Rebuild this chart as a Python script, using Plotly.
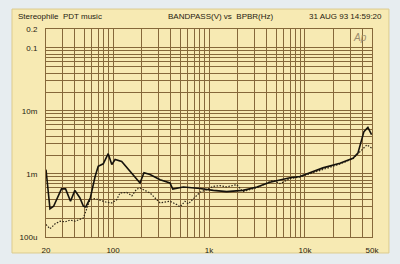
import plotly.graph_objects as go

# Frequencies (Hz) and bandpass levels (V)
freq_solid = [20, 22, 24, 29, 32, 36, 40, 45, 49, 52, 58, 65, 70, 79, 89, 97, 105, 123,
              191, 210, 243, 309, 392, 419, 540, 806, 1109, 1528, 2262, 3162, 4318,
              6978, 8870, 11270, 15400, 23170, 31620, 35650, 39260, 41200, 45300, 49500]
level_solid = [1.17e-3, 2.8e-4, 3.08e-4, 5.8e-4, 5.8e-4, 3.7e-4, 5.5e-4, 4.2e-4, 3.1e-4,
               3.0e-4, 4.2e-4, 9.1e-4, 1.32e-3, 1.45e-3, 2.1e-3, 1.41e-3, 1.7e-3, 1.58e-3,
               7.2e-4, 1.05e-3, 9.8e-4, 8.1e-4, 7.2e-4, 5.75e-4, 6.2e-4, 5.9e-4, 5.5e-4,
               5.25e-4, 5.5e-4, 6.2e-4, 7.4e-4, 8.7e-4, 9.1e-4, 1.05e-3, 1.25e-3, 1.48e-3,
               1.78e-3, 2.14e-3, 3.47e-3, 4.7e-3, 5.5e-3, 4.2e-3]

freq_dotted = [20, 22, 24.9, 28.1, 31.6, 35.7, 40.2, 44.5, 49, 53.2, 57.6, 64.9, 73.2, 86,
               97, 109, 118, 139, 157, 176, 191, 243, 309, 392, 461, 499, 562, 608, 686,
               806, 946, 1109, 1302, 1528, 1944, 2262, 3162, 4642, 5495, 6978, 8870,
               11270, 15400, 23170, 31620, 35650, 39260, 44240, 49500]
level_dotted = [1.58e-4, 1.35e-4, 1.62e-4, 1.78e-4, 1.74e-4, 1.86e-4, 1.78e-4, 1.9e-4,
                2.0e-4, 2.82e-4, 3.9e-4, 4.07e-4, 3.8e-4, 3.55e-4, 3.47e-4, 3.9e-4,
                5.0e-4, 5.1e-4, 4.5e-4, 5.75e-4, 6.0e-4, 5.0e-4, 3.47e-4, 3.7e-4,
                3.27e-4, 3.01e-4, 3.69e-4, 3.36e-4, 4.03e-4, 5.13e-4, 5.65e-4, 6.37e-4,
                6.53e-4, 6.24e-4, 6.78e-4, 5.25e-4, 6.08e-4, 7.94e-4, 7.03e-4, 8.43e-4,
                8.97e-4, 1.01e-3, 1.21e-3, 1.44e-3, 1.75e-3, 2.09e-3, 2.42e-3, 2.9e-3,
                2.58e-3]

x_grid = [20, 30, 40, 50, 60, 70, 80, 90, 100, 200, 300, 400, 500, 600, 700, 800, 900,
          1000, 2000, 3000, 4000, 5000, 6000, 7000, 8000, 9000,
          10000, 20000, 30000, 40000, 50000]
x_labels = {20: "20", 100: "100", 1000: "1k", 10000: "10k", 50000: "50k"}

y_grid = [1e-4, 2e-4, 3e-4, 4e-4, 5e-4, 6e-4, 7e-4, 8e-4, 9e-4,
          1e-3, 2e-3, 3e-3, 4e-3, 5e-3, 6e-3, 7e-3, 8e-3, 9e-3,
          1e-2, 2e-2, 3e-2, 4e-2, 5e-2, 6e-2, 7e-2, 8e-2, 9e-2, 0.1, 0.2]
y_labels = {1e-4: "100u", 1e-3: "1m", 1e-2: "10m", 0.1: "0.1", 0.2: "0.2"}

title_left = "Stereophile  PDT music"
title_mid = "BANDPASS(V) vs  BPBR(Hz)"
title_right = "31 AUG 93 14:59:20"

GRID = "#86683a"
TAN = "#f7eab3"
INK = "#1f1a10"
FONT = "Liberation Sans"

fig = go.Figure()
fig.add_trace(go.Scatter(x=freq_dotted, y=level_dotted, mode="lines",
                         line=dict(color="#2e2618", width=1.2, dash="1.5px,1.5px"),
                         hoverinfo="skip"))
fig.add_trace(go.Scatter(x=freq_solid, y=level_solid, mode="lines",
                         line=dict(color="#15120c", width=1.6),
                         hoverinfo="skip"))

fig.update_xaxes(type="log", range=[1.30103, 4.69897], automargin=False,
                 tickmode="array", tickvals=x_grid,
                 ticktext=[x_labels.get(v, "") for v in x_grid],
                 showgrid=True, gridcolor=GRID, gridwidth=1,
                 showline=True, linecolor=GRID, linewidth=1, mirror=True,
                 ticks="", ticklabelstandoff=5, zeroline=False,
                 tickfont=dict(family=FONT, size=8, color=INK))
fig.update_yaxes(type="log", range=[-4, -0.69897], automargin=False,
                 tickmode="array", tickvals=y_grid,
                 ticktext=[y_labels.get(v, "") for v in y_grid],
                 showgrid=True, gridcolor=GRID, gridwidth=1,
                 showline=True, linecolor=GRID, linewidth=1, mirror=True,
                 ticks="", ticklabelstandoff=6, zeroline=False,
                 tickfont=dict(family=FONT, size=8, color=INK))

fig.add_shape(type="rect", xref="paper", yref="paper",
              x0=-0.1043, x1=1.052, y0=-0.0769, y1=1.096,
              fillcolor=TAN, line=dict(color="#dccb8e", width=1), layer="below")

ann_font = dict(family=FONT, size=8, color=INK)
fig.add_annotation(x=-0.092, y=1.0625, xref="paper", yref="paper", text=title_left,
                   showarrow=False, xanchor="left", yanchor="middle", font=ann_font)
fig.add_annotation(x=0.537, y=1.0625, xref="paper", yref="paper", text=title_mid,
                   showarrow=False, xanchor="center", yanchor="middle", font=ann_font)
fig.add_annotation(x=1.037, y=1.0625, xref="paper", yref="paper", text=title_right,
                   showarrow=False, xanchor="right", yanchor="middle", font=ann_font)
fig.add_annotation(x=0.99, y=0.96, xref="paper", yref="paper", text="<i>Ap</i>",
                   showarrow=False, xanchor="right", yanchor="middle",
                   font=dict(family=FONT, size=10, color="#9c8d6e"))

fig.update_layout(width=400, height=264, showlegend=False,
                  margin=dict(l=46, r=28, t=29, b=27),
                  paper_bgcolor="#e7edf0", plot_bgcolor=TAN)

fig.write_html("out.html")
